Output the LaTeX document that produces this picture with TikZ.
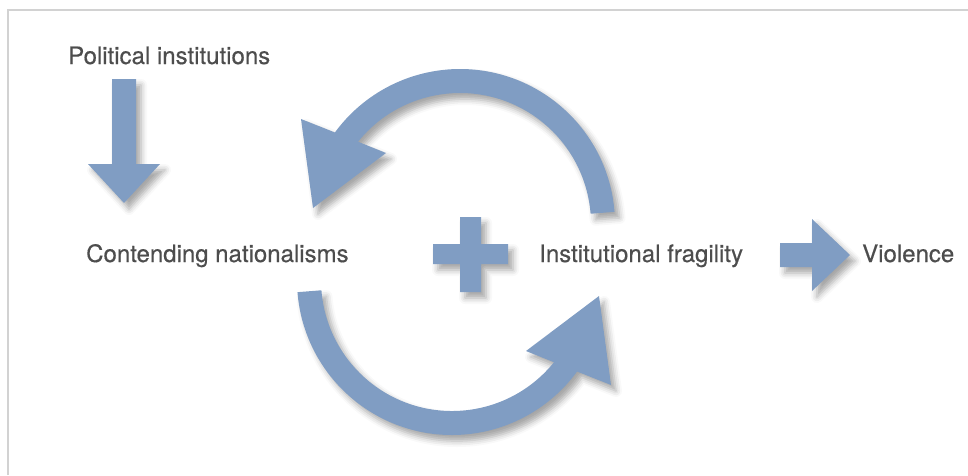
\documentclass[tikz,border=0pt]{standalone}
\usepackage{fontspec}
\setmainfont[FakeBold=0.4]{TeX Gyre Heros}
\usetikzlibrary{calc}
\usetikzlibrary{shadows.blur}
\definecolor{arrowblue}{RGB}{128,157,195}
\definecolor{labelgray}{RGB}{77,77,77}
\definecolor{framegray}{RGB}{210,210,210}

\begin{document}
\begin{tikzpicture}[x=1pt, y=-1pt,
    blk/.style={fill=arrowblue, blur shadow={shadow xshift=5pt, shadow yshift=-6pt, shadow blur radius=6pt, shadow opacity=35}},
    lbl/.style={anchor=base west, inner sep=0pt, text=labelgray, font=\fontsize{24}{28}\selectfont}]
    \useasboundingbox (0,0) rectangle (968,475);
    \draw[framegray, line width=2.5pt](8,475)--(8,10)--(968,10);

    \node[lbl] (pol) at (68,64) {Political institutions};
    \node[lbl] (cont) at (86,262) {Contending nationalisms};
    \node[lbl] (inst) at (539,262) {Institutional fragility};
    \node[lbl] (viol) at (862,262) {Violence};

    \coordinate (ctop) at (460,224);
    \coordinate (cbot) at (452,280);

    % down arrow and right arrow
    \fill[blk](112,79)--(136,79)--(136,164)--(160,164)--(124,203)--(88,164)--(112,164)--cycle;
    \fill[blk](780,243)--(812,243)--(812,219)--(850,255)--(812,291)--(812,267)--(780,267)--cycle;

    % plus
    \fill[blk](460,217)--(481,217)--(481,244)--(508,244)--(508,264)--(481,264)--(481,292)
        --(460,292)--(460,264)--(433,264)--(433,244)--(460,244)--cycle;

    % loop arrows
    \fill[blk]($(ctop)+(-4.5:155)$) arc[start angle=-4.5, end angle=-143.8, radius=155]
        --(301,119)--(313,208)--(386,153)--($(ctop)+(-141.1:131)$)
        arc[start angle=-141.1, end angle=-4.5, radius=131]--cycle;
    \fill[blk]($(cbot)+(175.5:155)$) arc[start angle=175.5, end angle=36.2, radius=155]
        --(611,385)--(599,296)--(526,351)--($(cbot)+(38.9:131)$)
        arc[start angle=38.9, end angle=175.5, radius=131]--cycle;
\end{tikzpicture}
\end{document}
